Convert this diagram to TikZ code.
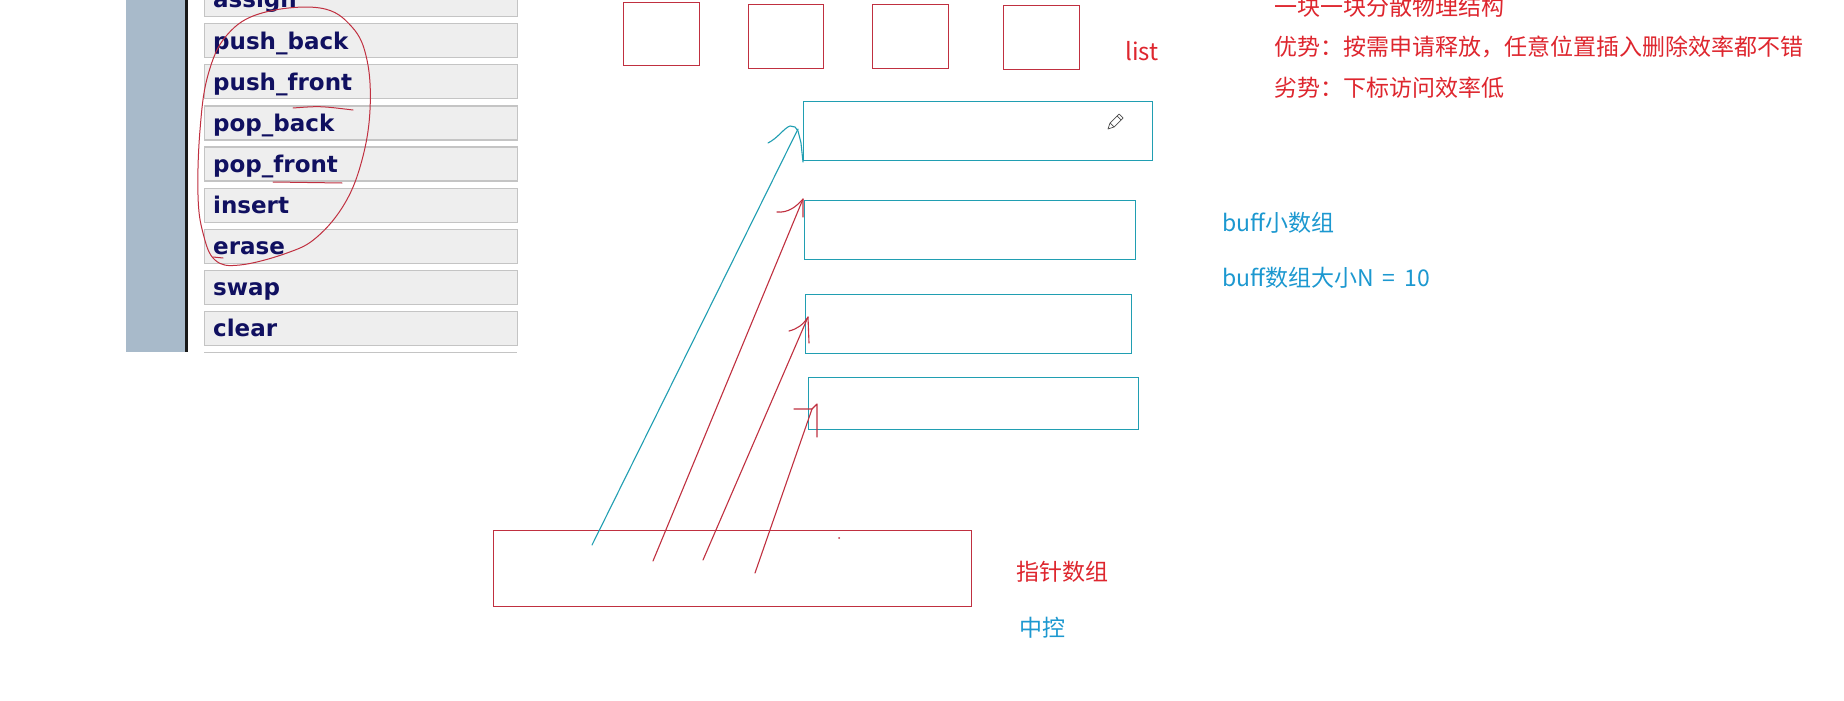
\documentclass[tikz,border=0pt]{standalone}
\usepackage{fontspec}
\newfontfamily\cjk{Noto Sans CJK SC}
\newfontfamily\menufont{DejaVu Sans}
\definecolor{penred}{RGB}{192,48,64}
\definecolor{txtred}{RGB}{222,38,46}
\definecolor{pencyan}{RGB}{32,158,178}
\definecolor{txtcyan}{RGB}{28,152,208}
\definecolor{navy}{RGB}{16,16,96}
\definecolor{stripc}{RGB}{168,186,202}
\definecolor{rowfill}{RGB}{238,238,238}
\definecolor{rowline}{RGB}{196,196,196}
\tikzset{
  rowbox/.style={draw=rowline, fill=rowfill, line width=1.2pt, minimum width=313pt, minimum height=34pt, inner sep=0pt, anchor=north west},
  menu/.style={font=\menufont\bfseries\fontsize{23}{23}\selectfont, text=navy, inner sep=0pt, anchor=base west},
  redbox/.style={draw=penred, line width=1.4pt, inner sep=0pt, anchor=north west},
  cyanbox/.style={draw=pencyan, line width=1.4pt, inner sep=0pt, anchor=north west},
  cnred/.style={font=\cjk\fontsize{23}{23}\selectfont, text=txtred, inner sep=0pt, anchor=base west},
  cncyan/.style={font=\cjk\fontsize{23}{23}\selectfont, text=txtcyan, inner sep=0pt, anchor=base west},
  redpen/.style={draw=penred, line width=1.1pt, line cap=round, line join=round},
  cyanpen/.style={draw=pencyan, line width=1.1pt, line cap=round, line join=round},
}
\begin{document}
\begin{tikzpicture}[x=1pt,y=-1pt]
\useasboundingbox (0,0) rectangle (1844,701);
\fill[white] (0,0) rectangle (1844,701);

% left panel
\fill[stripc] (126,0) rectangle (186,352);
\draw[line width=2.5pt, black!90] (186.5,0) -- (186.5,352);
\foreach \name [count=\i from 0] in {assign,push\_back,push\_front,pop\_back,pop\_front,insert,erase,swap,clear} {
  \node[rowbox] (r\i) at (204,{-18+41.1*\i}) {};
  \node[menu] (t\i) at (213,{-18+41.1*\i+26}) {\name};
}
\draw[rowline, line width=1.2pt] (204,352.5) -- (517,352.5);

% hand-drawn circle
\draw[redpen, line width=1pt] plot[smooth cycle, tension=0.65] coordinates {
 (320,8) (262,13) (227,35) (208,75) (200,130) (198,195) (203,233) (215,260) (240,265)
 (287,253) (317,237) (345,203) (362,160) (370,110) (367,60) (352,27)};
\draw[redpen, line width=1pt] (213,257) -- (223,258);
\draw[redpen, line width=1pt] (293,108) .. controls (320,106) .. (353,110);
\draw[redpen, line width=1pt] (273,182) -- (342,183);

% top squares
\node[redbox, minimum width=76pt, minimum height=63pt] (s1) at (623,2) {};
\node[redbox, minimum width=75pt, minimum height=64pt] (s2) at (748,4) {};
\node[redbox, minimum width=76pt, minimum height=64pt] (s3) at (872,4) {};
\node[redbox, minimum width=76pt, minimum height=64pt] (s4) at (1003,5) {};
\node[font=\cjk\fontsize{24}{24}\selectfont, text=txtred, inner sep=0pt, anchor=base west] (lst) at (1125,60) {list};

% buffers
\node[cyanbox, minimum width=349pt, minimum height=59pt] (b1) at (803,101) {};
\node[cyanbox, minimum width=331pt, minimum height=59pt] (b2) at (804,200) {};
\node[cyanbox, minimum width=326pt, minimum height=59pt] (b3) at (805,294) {};
\node[cyanbox, minimum width=330pt, minimum height=52pt] (b4) at (808,377) {};

% pointer array
\node[redbox, minimum width=478pt, minimum height=76pt] (ptr) at (493,530) {};

% connector coordinates
\coordinate (a0s) at (592,545); \coordinate (a0e) at (798,129);
\coordinate (a1s) at (653,561); \coordinate (a1e) at (803,199);
\coordinate (a2s) at (703,560); \coordinate (a2e) at (808,317);
\coordinate (a3s) at (755,573); \coordinate (a3e) at (812,409);

\draw[cyanpen] (a0s) -- (a0e);
\draw[cyanpen] (768,143) .. controls (778,138) and (784,128) .. (790,126) -- (795,127) -- (798,131) -- (801,143) -- (803,162);
\draw[redpen] (a1s) -- (a1e);
\draw[redpen] (777,212) .. controls (788,213) and (796,207) .. (a1e) -- (803,217);
\draw[redpen] (a2s) -- (a2e);
\draw[redpen] (789,331) .. controls (797,329) and (803,325) .. (a2e) -- (809,343);
\draw[redpen] (a3s) -- (a3e);
\draw[redpen] (794,409) -- (a3e) -- (817,404) -- (817,437);
\fill[penred] (839,538) circle (1pt);

% pencil cursor
\draw[black!70, line width=0.7pt, line join=round] (1108,129) -- (1110,123) -- (1119,114) -- (1123,118) -- (1114,127) -- cycle;
\draw[black!70, line width=0.7pt] (1110,123) -- (1114,127) (1117,116) -- (1121,120);

% labels
\node[cnred] (d1) at (1274,16) {一块一块分散物理结构};
\node[cnred] (d2) at (1274,56) {优势：按需申请释放，任意位置插入删除效率都不错};
\node[cnred] (d3) at (1274,96) {劣势：下标访问效率低};
\node[cncyan] (bf1) at (1222,231) {buff小数组};
\node[cncyan] (bf2) at (1222,286) {buff数组大小N\hspace{9pt}=\hspace{9pt}10};
\node[cnred] (zz) at (1016,580) {指针数组};
\node[cncyan] (zk) at (1019,636) {中控};
\end{tikzpicture}
\end{document}
